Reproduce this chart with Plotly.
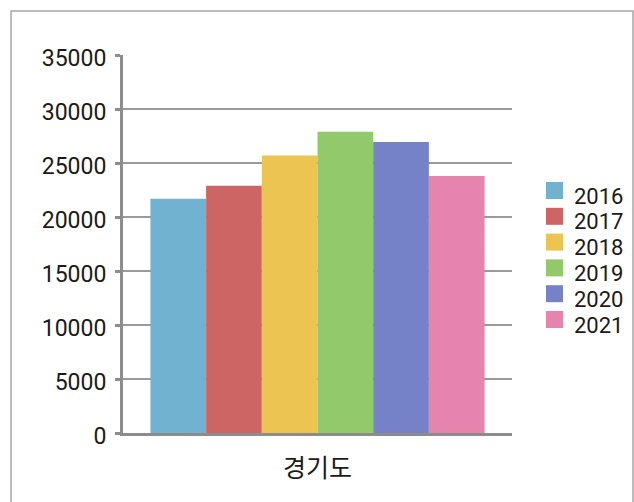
import plotly.graph_objects as go

categories = ["경기도"]
years = ["2016", "2017", "2018", "2019", "2020", "2021"]
values = [21700, 22900, 25700, 27900, 26950, 23800]
colors = ["#72b2d1", "#cc6563", "#ebc452", "#92c96a", "#7682c8", "#e684ae"]
y_ticks = [0, 5000, 10000, 15000, 20000, 25000, 30000, 35000]

FONT = "Roboto, Noto Sans CJK KR"
KFONT = "Noto Sans CJK KR"
TXT = "#1a1a1a"
fig = go.Figure()
for yr, v, c in zip(years, values, colors):
    fig.add_trace(go.Bar(x=categories, y=[v], name=yr, marker=dict(color=c, line=dict(width=0)),
                         showlegend=False))

L, R, T, B = 123, 122, 55, 69
pw, ph = 634 - L - R, 502 - T - B

def px(x):
    return (x - L) / pw

def py(y):
    return (502 - B - y) / ph

shapes = [dict(type="rect", xref="paper", yref="paper",
               x0=px(11), x1=px(633), y0=py(520), y1=py(11),
               line=dict(color="#a6a6a6", width=1.5), fillcolor="rgba(0,0,0,0)", layer="below")]
annotations = []
# custom legend (swatch + label), 25.8 px per entry
for i, (yr, c) in enumerate(zip(years, colors)):
    top = 182 + i * 25.8
    shapes.append(dict(type="rect", xref="paper", yref="paper",
                       x0=px(546), x1=px(563), y0=py(top + 17), y1=py(top),
                       line=dict(width=0), fillcolor=c))
    annotations.append(dict(xref="paper", yref="paper", x=px(573), y=py(top + 14),
                            text=yr, showarrow=False, xanchor="left", yanchor="middle",
                            borderpad=0,
                            font=dict(family="Roboto", size=22, color=TXT)))

fig.update_layout(
    width=634, height=502,
    margin=dict(l=L, r=R, t=T, b=B, autoexpand=False),
    paper_bgcolor="white", plot_bgcolor="white",
    barmode="group", bargap=0.141, bargroupgap=0,
    font=dict(family=FONT, size=22, color=TXT),
    showlegend=False,
    shapes=shapes, annotations=annotations,
)
fig.update_yaxes(range=[0, 35000], tickvals=y_ticks, tickformat="d",
                 showgrid=True, gridcolor="#9a9a9a", gridwidth=1.5,
                 showline=True, linecolor="#8c8c8c", linewidth=3,
                 ticks="outside", ticklen=5, tickwidth=3, tickcolor="#8c8c8c",
                 ticklabelstandoff=4, ticklabelshift=3, zeroline=False,
                 tickfont=dict(family="Roboto", size=23, color=TXT))
fig.update_xaxes(showline=True, linecolor="#8c8c8c", linewidth=3, ticks="",
                 ticklabelstandoff=11,
                 tickfont=dict(family=KFONT, size=25, color=TXT))

fig.write_html("out.html")
